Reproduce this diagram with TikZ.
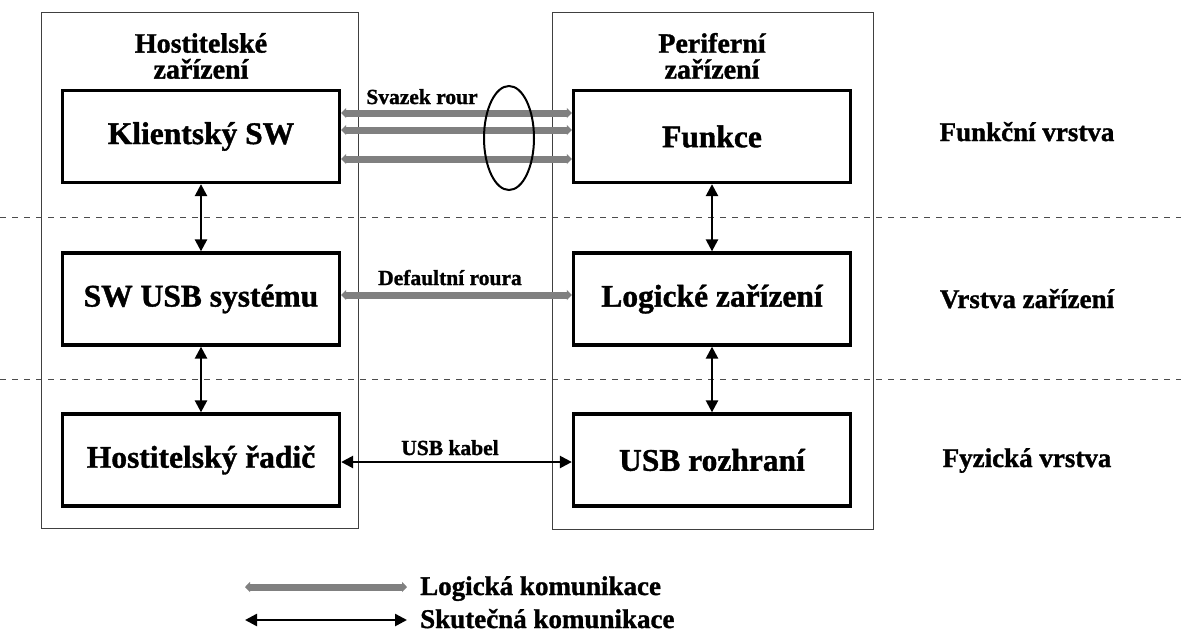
\documentclass[tikz,border=0pt]{standalone}
\usepackage{fontspec}
\setmainfont{Liberation Serif}[BoldFeatures={FakeBold=1.2}]
\usetikzlibrary{arrows.meta,shapes.geometric}
\begin{document}
\begin{tikzpicture}[x=1pt,y=-1pt,
  outerbox/.style={draw=black!75, line width=1pt, inner sep=0pt},
  layerbox/.style={draw, line width=3.3pt, fill=white, minimum width=277pt, minimum height=92pt, inner sep=0pt, font=\fontsize{31.5}{34}\selectfont\bfseries},
  header/.style={align=center, inner sep=0pt, font=\fontsize{28}{26}\selectfont\bfseries},
  layerlabel/.style={anchor=base, inner sep=0pt, font=\fontsize{27}{30}\selectfont\bfseries},
  pipelabel/.style={anchor=base, inner sep=0pt, font=\fontsize{21.5}{24}\selectfont\bfseries},
  legendlabel/.style={anchor=base west, inner sep=0pt, font=\fontsize{27}{30}\selectfont\bfseries},
  divider/.style={draw=black!70, line width=1pt, dash pattern=on 6pt off 6pt},
  pipe/.style={draw=black!50, line width=7pt, {Triangle[length=5pt,width=10pt]}-{Triangle[length=5pt,width=10pt]}},
  realcom/.style={draw=black, line width=2.5pt, {Triangle[length=12pt,width=12pt]}-{Triangle[length=12pt,width=12pt]}},
]
\useasboundingbox (0,0) rectangle (1181,638);

% layer dividers
\coordinate (d1a) at (0,217);   \coordinate (d1b) at (1181,217);
\coordinate (d2a) at (0,379);   \coordinate (d2b) at (1181,379);
\draw[divider] (d1a) -- (d1b);
\draw[divider] (d2a) -- (d2b);

% outer device frames
\node[outerbox, minimum width=317pt, minimum height=516pt] (host) at (199.5,270) {};
\node[outerbox, minimum width=321pt, minimum height=517pt] (dev) at (712.5,270.5) {};

% headers
\node[header] (hosthead) at (201,56) {Hostitelské\\zařízení};
\node[header] (devhead) at (712,56) {Periferní\\zařízení};

% layer boxes
\node[layerbox] (client) at (201,136.5) {Klientský SW};
\node[layerbox] (usbsys) at (201,299) {SW USB systému};
\node[layerbox] (hc)     at (201,460) {Hostitelský řadič};
\node[layerbox] (func)   at (712,136.5) {Funkce};
\node[layerbox] (logdev) at (712,299) {Logické zařízení};
\node[layerbox] (usbif)  at (712,460) {USB rozhraní};

% layer labels
\node[layerlabel] (lfunc) at (1027,141) {Funkční vrstva};
\node[layerlabel] (ldev)  at (1027,308) {Vrstva zařízení};
\node[layerlabel] (lphy)  at (1027,467) {Fyzická vrstva};

% pipe bundle
\draw[pipe] (client.east |- 0,113) -- (func.west |- 0,113);
\draw[pipe] (client.east |- 0,130) -- (func.west |- 0,130);
\draw[pipe] (client.east |- 0,159) -- (func.west |- 0,159);
\node[ellipse, draw, line width=2pt, minimum width=50pt, minimum height=104pt, inner sep=0pt] (bundle) at (509,138) {};
\node[pipelabel] (lbundle) at (422,104) {Svazek rour};

% default pipe
\draw[pipe] (usbsys.east |- 0,295) -- (logdev.west |- 0,295);
\node[pipelabel] (ldefault) at (450,285) {Defaultní roura};

% USB cable
\draw[realcom] (hc.east |- 0,462) -- (usbif.west |- 0,462);
\node[pipelabel] (lcable) at (450,455) {USB kabel};

% vertical real communication
\draw[realcom] (client.south) -- (usbsys.north);
\draw[realcom] (usbsys.south) -- (hc.north);
\draw[realcom] (func.south) -- (logdev.north);
\draw[realcom] (logdev.south) -- (usbif.north);

% legend
\coordinate (lg1a) at (245,587); \coordinate (lg1b) at (407,587);
\coordinate (lg2a) at (245,620); \coordinate (lg2b) at (407,620);
\draw[pipe] (lg1a) -- (lg1b);
\draw[realcom] (lg2a) -- (lg2b);
\node[legendlabel] (leglog) at (420,595) {Logická komunikace};
\node[legendlabel] (legreal) at (420,628) {Skutečná komunikace};
\end{tikzpicture}
\end{document}
